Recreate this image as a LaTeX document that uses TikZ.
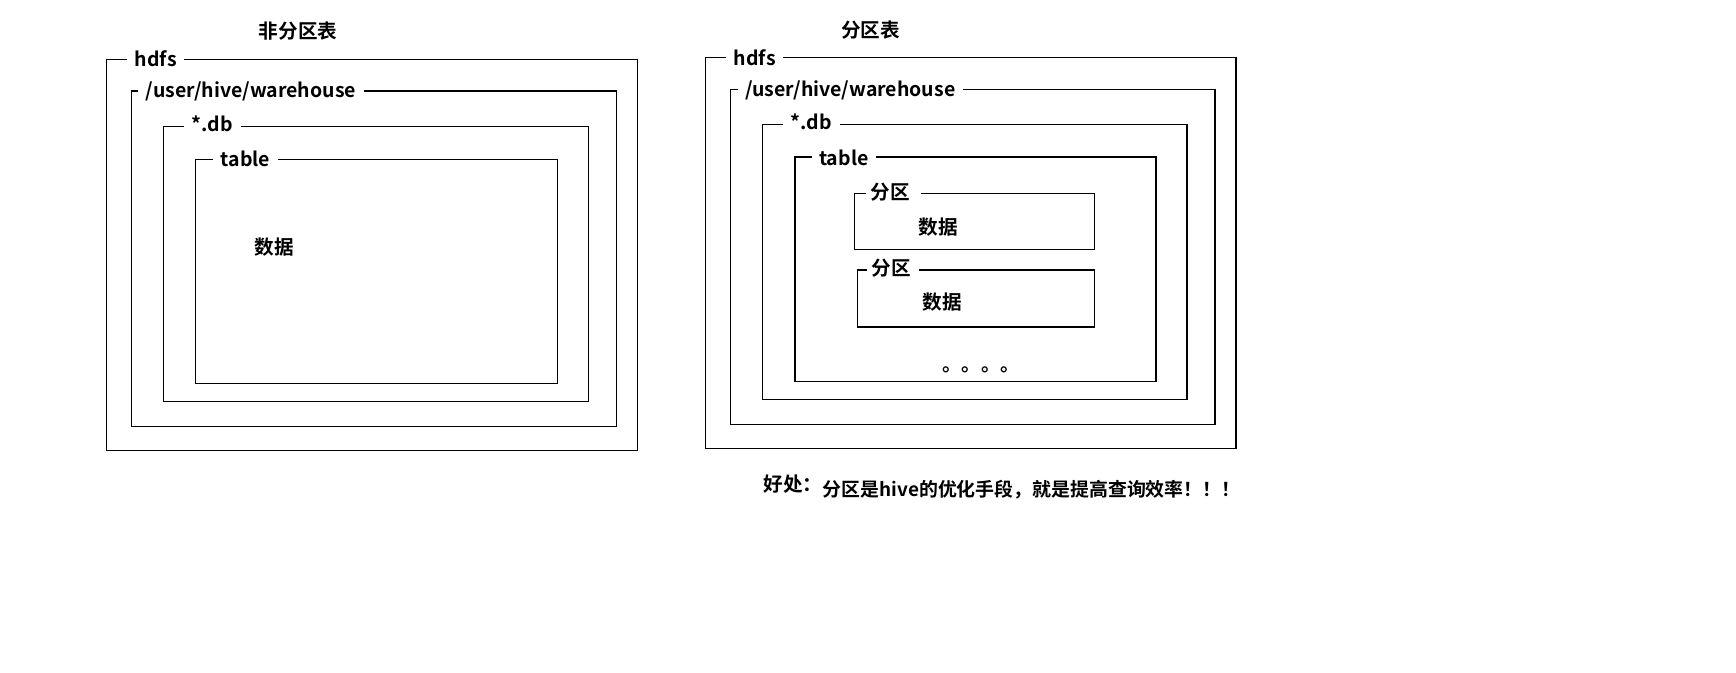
\documentclass[tikz,border=0pt]{standalone}
\usepackage{fontspec}
\newfontfamily\cjk{Noto Sans CJK SC}[UprightFont={* Bold}]
\begin{document}
\begin{tikzpicture}[x=1pt,y=-1pt,
  frame/.style={line width=1.1pt},
  lbl/.style={font=\cjk\fontsize{19.5}{19.5}\selectfont, inner xsep=7.5pt, inner ysep=0pt, anchor=base west},
  clbl/.style={font=\cjk\fontsize{19.6}{19.6}\selectfont, inner xsep=5pt, inner ysep=0pt, anchor=west},
  ctext/.style={font=\cjk\fontsize{19.6}{19.6}\selectfont, inner sep=0pt}]
\fill[white] (0,0) rectangle (1736,672);
\useasboundingbox (0,0) rectangle (1736,672);

% ---------- non-partitioned table ----------
\node[ctext] (t1) at (298,31.3) {非分区表};

\node[lbl] (a1) at (127.2,66.7) {hdfs};
\coordinate (a1tl) at (106.3,59.3); \coordinate (a1br) at (637.3,450.3);
\draw[frame] (a1.east |- a1tl) -| (a1br) -| (a1tl) -- (a1.west |- a1tl);

\node[lbl] (b1) at (138.2,97.7) {/user/hive/warehouse};
\coordinate (b1tl) at (131.3,91); \coordinate (b1br) at (616.7,426.3);
\draw[frame] (b1.east |- b1tl) -| (b1br) -| (b1tl) -- (b1.west |- b1tl);

\node[lbl] (c1) at (184.2,131.7) {*.db};
\coordinate (c1tl) at (163.3,126.7); \coordinate (c1br) at (588.7,401.3);
\draw[frame] (c1.east |- c1tl) -| (c1br) -| (c1tl) -- (c1.west |- c1tl);

\node[lbl] (d1) at (213.2,166.7) {table};
\coordinate (d1tl) at (195.3,159.3); \coordinate (d1br) at (557.3,383.3);
\draw[frame] (d1.east |- d1tl) -| (d1br) -| (d1tl) -- (d1.west |- d1tl);

\node[ctext] (e1) at (274.5,246.7) {数据};

% ---------- partitioned table ----------
\node[ctext] (t2) at (870.7,30.5) {分区表};

\node[lbl] (a2) at (726.2,65) {hdfs};
\coordinate (a2tl) at (705.3,57.3); \coordinate (a2br) at (1236,448.3);
\draw[frame] (a2.east |- a2tl) -| (a2br) -| (a2tl) -- (a2.west |- a2tl);

\node[lbl] (b2) at (737.5,96.7) {/user/hive/warehouse};
\coordinate (b2tl) at (730.7,89.3); \coordinate (b2br) at (1215,424.3);
\draw[frame] (b2.east |- b2tl) -| (b2br) -| (b2tl) -- (b2.west |- b2tl);

\node[lbl] (c2) at (783.2,129.3) {*.db};
\coordinate (c2tl) at (762.7,124.3); \coordinate (c2br) at (1187,399.3);
\draw[frame] (c2.east |- c2tl) -| (c2br) -| (c2tl) -- (c2.west |- c2tl);

\node[lbl] (d2) at (811.5,165) {table};
\coordinate (d2tl) at (795,157); \coordinate (d2br) at (1156,381.3);
\draw[frame] (d2.east |- d2tl) -| (d2br) -| (d2tl) -- (d2.west |- d2tl);

\node[clbl] (p1) at (865.7,192) {分区};
\coordinate (p1tl) at (854.3,193.3); \coordinate (p1br) at (1094.3,249.3);
\draw[frame] ([xshift=6pt]p1.east |- p1tl) -| (p1br) -| (p1tl) -- (p1.west |- p1tl);
\node[ctext] (q1) at (938,226.7) {数据};

\node[clbl] (p2) at (866.5,267.7) {分区};
\coordinate (p2tl) at (857.3,270); \coordinate (p2br) at (1094.3,327);
\draw[frame] ([xshift=3pt]p2.east |- p2tl) -| (p2br) -| (p2tl) -- (p2.west |- p2tl);
\node[ctext] (q2) at (942,302) {数据};

\node[font=\cjk\fontsize{19.3}{19.3}\selectfont, inner sep=0pt, anchor=base west] (dots) at (942.3,371.3) {。。。。};

% ---------- note ----------
\node[ctext, anchor=west] (n1) at (763.4,484) {好处：};
\node[ctext, anchor=west, font=\cjk\fontsize{18.9}{18.9}\selectfont] (n2) at (822.7,490) {分区是hive的优化手段，就是提高查询效率！！！};
\end{tikzpicture}
\end{document}
